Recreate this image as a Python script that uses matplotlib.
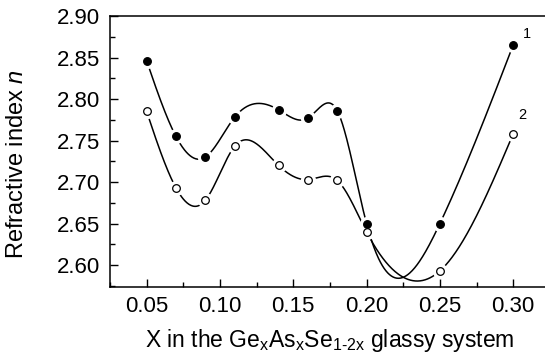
import numpy as np
import matplotlib
matplotlib.use("Agg")
import matplotlib.pyplot as plt
from matplotlib.ticker import MultipleLocator

plt.rcParams['font.family'] = 'Liberation Sans'
plt.rcParams['mathtext.fontset'] = 'custom'
plt.rcParams['mathtext.rm'] = 'Liberation Sans'
plt.rcParams['mathtext.it'] = 'Liberation Sans:italic'

# composition x
x = np.array([0.05, 0.07, 0.09, 0.11, 0.14, 0.16, 0.18, 0.20, 0.25, 0.30])
# refractive index, curve 1 (filled) and curve 2 (open)
n1 = np.array([2.846, 2.755, 2.730, 2.778, 2.787, 2.777, 2.786, 2.650, 2.650, 2.865])
n2 = np.array([2.785, 2.693, 2.678, 2.743, 2.720, 2.703, 2.702, 2.640, 2.593, 2.758])


def natural_spline(xp, yp, xs):
    # natural cubic spline through the points
    n = len(xp)
    h = np.diff(xp)
    A = np.zeros((n, n))
    r = np.zeros(n)
    A[0, 0] = 1
    A[-1, -1] = 1
    for i in range(1, n - 1):
        A[i, i - 1] = h[i - 1]
        A[i, i] = 2 * (h[i - 1] + h[i])
        A[i, i + 1] = h[i]
        r[i] = 6 * ((yp[i + 1] - yp[i]) / h[i] - (yp[i] - yp[i - 1]) / h[i - 1])
    M = np.linalg.solve(A, r)
    idx = np.clip(np.searchsorted(xp, xs) - 1, 0, n - 2)
    x0, x1 = xp[idx], xp[idx + 1]
    hh = x1 - x0
    a = (x1 - xs) / hh
    b = (xs - x0) / hh
    return (a * yp[idx] + b * yp[idx + 1]
            + ((a**3 - a) * M[idx] + (b**3 - b) * M[idx + 1]) * hh**2 / 6)


fig = plt.figure(figsize=(5.45, 3.6), dpi=100)
ax = fig.add_axes([0.2018, 0.2036, 0.7982, 0.752])

xs = np.linspace(x[0], x[-1], 600)
for yy, face in [(n1, 'black'), (n2, 'white')]:
    ax.plot(xs, natural_spline(x, yy, xs), color='black', lw=1.1, zorder=2)
    # white halo to give the gap round each marker
    ax.plot(x, yy, 'o', ms=11, color='white', mec='none', zorder=3)
    ax.plot(x, yy, 'o', ms=5.5, mfc=face, mec='black', mew=0.9, zorder=4)

ax.text(0.3067, 2.8736, '1', fontsize=10.5)
ax.text(0.3033, 2.7762, '2', fontsize=10.5)

ax.set_xlim(0.025, 0.3217)
ax.set_ylim(2.574, 2.90)
ax.xaxis.set_major_locator(MultipleLocator(0.05))
ax.xaxis.set_minor_locator(MultipleLocator(0.025))
ax.yaxis.set_major_locator(MultipleLocator(0.05))
ax.yaxis.set_minor_locator(MultipleLocator(0.025))
ax.xaxis.set_major_formatter(plt.FormatStrFormatter('%.2f'))
ax.yaxis.set_major_formatter(plt.FormatStrFormatter('%.2f'))
ax.tick_params(which='both', direction='in', labelsize=16, width=1, top=False, right=False)
ax.tick_params(which='major', length=6)
ax.tick_params(which='minor', length=3.5)
ax.tick_params(axis='x', pad=7)
ax.tick_params(axis='y', pad=7)
ax.spines['right'].set_visible(False)
for s in ['left', 'bottom', 'top']:
    ax.spines[s].set_linewidth(1.1)

fig.text(17.5 / 545, 1 - 164 / 360, r'Refractive index $\it{n}$', fontsize=17,
         rotation=90, ha='center', va='center')
fig.text(330 / 545, 1 - 346.7 / 360,
         r'X in the Ge$_{\text{x}}$As$_{\text{x}}$Se$_{\text{1-2x}}$ glassy system',
         fontsize=16.5, ha='center', va='baseline')

fig.savefig('out.png', dpi=100)
